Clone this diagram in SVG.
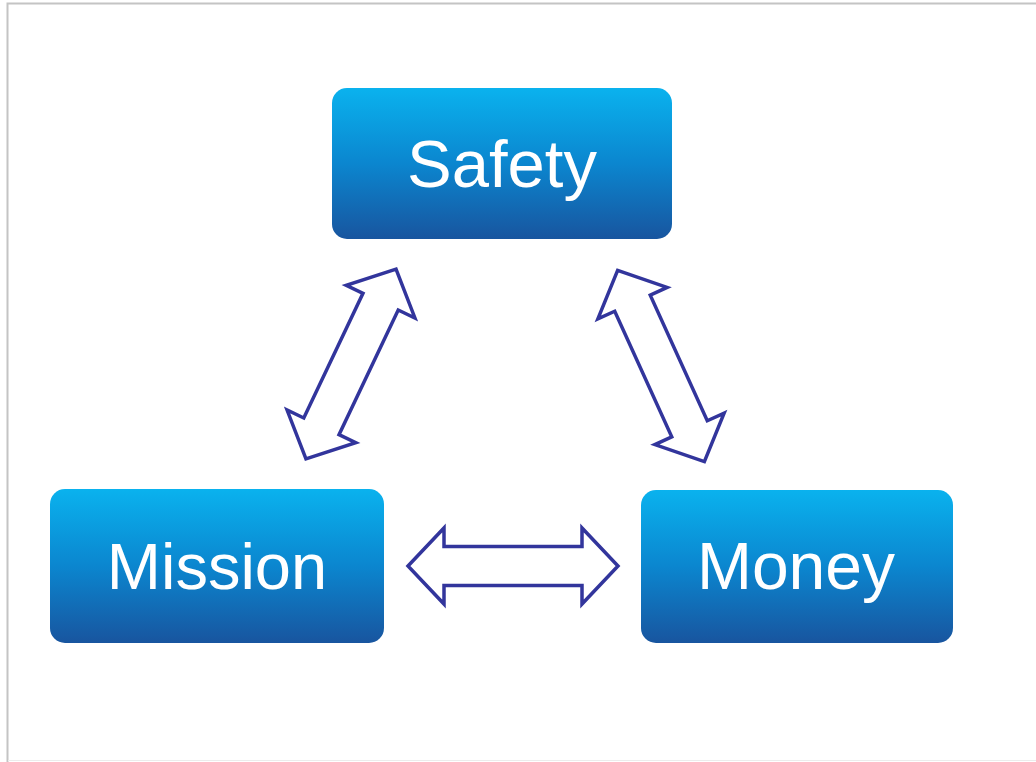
<svg xmlns="http://www.w3.org/2000/svg" width="1036" height="762" viewBox="0 0 1036 762">
  <defs>
    <linearGradient id="boxGrad" x1="0" y1="0" x2="0" y2="1">
      <stop offset="0" stop-color="#0ab2ee"/>
      <stop offset="0.5" stop-color="#0b86cf"/>
      <stop offset="1" stop-color="#18559f"/>
    </linearGradient>
    <path id="dblArrow" d="M -105,0 L -69,-38 L -69,-19.5 L 69,-19.5 L 69,-38 L 105,0 L 69,38 L 69,19.5 L -69,19.5 L -69,38 Z"/>
  </defs>
  <style>
    .box { fill: url(#boxGrad); }
    .label { font-family: "Liberation Sans", Arial, sans-serif; fill: #ffffff; text-anchor: middle; }
    .arrow { fill: #ffffff; stroke: #32359c; stroke-width: 3.5; stroke-linejoin: miter; }
  </style>
  <rect x="0" y="0" width="1036" height="762" fill="#ffffff"/>
  <path d="M 7.5,762 L 7.5,3.5 L 1036,3.5" fill="none" stroke="#c4c4c4" stroke-width="2"/>
  <line x1="8" y1="760.5" x2="1036" y2="760.5" stroke="#ececec" stroke-width="1"/>

  <g id="connectors">
    <use href="#dblArrow" class="arrow" transform="translate(351,364) rotate(-64.6)"/>
    <use href="#dblArrow" class="arrow" transform="translate(661,366) rotate(65.6)"/>
    <use href="#dblArrow" class="arrow" transform="translate(513,566)"/>
  </g>

  <g id="node-safety">
    <rect class="box" x="332" y="88" width="340" height="151" rx="15" ry="15"/>
    <text class="label" x="502" y="187" font-size="67">Safety</text>
  </g>
  <g id="node-mission">
    <rect class="box" x="50" y="489" width="334" height="154" rx="15" ry="15"/>
    <text class="label" x="217" y="589" font-size="65">Mission</text>
  </g>
  <g id="node-money">
    <rect class="box" x="641" y="490" width="312" height="153" rx="15" ry="15"/>
    <text class="label" x="796" y="589" font-size="66">Money</text>
  </g>
</svg>
